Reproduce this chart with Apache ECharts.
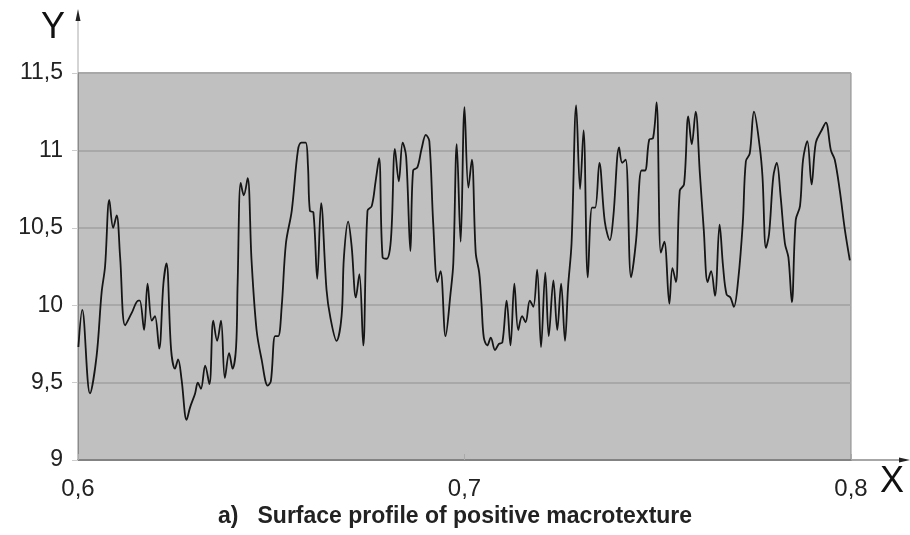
<!DOCTYPE html>
<html>
<head>
<meta charset="utf-8">
<script src="https://cdn.jsdelivr.net/npm/echarts@6/dist/echarts.min.js"></script>
<style>
  html, body { margin: 0; padding: 0; background: #fff; }
  #chart { width: 910px; height: 535px; }
</style>
</head>
<body>
<div id="chart"></div>
<script>
// profile samples
const xs = [
  0.6001, 0.6011, 0.6031, 0.6048, 0.6061, 0.6070, 0.6081, 0.6091, 0.6100, 0.6109,
  0.6122, 0.6139, 0.6156, 0.6160, 0.6171, 0.6180, 0.6191, 0.6199, 0.6210, 0.6221,
  0.6229, 0.6241, 0.6251, 0.6259, 0.6268, 0.6281, 0.6290, 0.6303, 0.6310, 0.6318,
  0.6329, 0.6340, 0.6350, 0.6360, 0.6370, 0.6380, 0.6391, 0.6400, 0.6409, 0.6413,
  0.6421, 0.6429, 0.6439, 0.6449, 0.6462, 0.6475, 0.6491, 0.6499, 0.6510, 0.6518,
  0.6527, 0.6538, 0.6553, 0.6569, 0.6578, 0.6589, 0.6595, 0.6600, 0.6609, 0.6619,
  0.6629, 0.6643, 0.6653, 0.6669, 0.6682, 0.6688, 0.6699, 0.6708, 0.6719, 0.6728,
  0.6738, 0.6749, 0.6760, 0.6770, 0.6779, 0.6788, 0.6799, 0.6807, 0.6812, 0.6820,
  0.6830, 0.6840, 0.6849, 0.6860, 0.6867, 0.6878, 0.6889, 0.6900, 0.6909, 0.6919,
  0.6930, 0.6938, 0.6951, 0.6964, 0.6971, 0.6980, 0.6990, 0.7000, 0.7010, 0.7019,
  0.7029, 0.7038, 0.7044, 0.7050, 0.7059, 0.7068, 0.7079, 0.7089, 0.7098, 0.7109,
  0.7119, 0.7129, 0.7139, 0.7149, 0.7158, 0.7169, 0.7178, 0.7188, 0.7198, 0.7209,
  0.7218, 0.7230, 0.7240, 0.7250, 0.7260, 0.7268, 0.7277, 0.7289, 0.7299, 0.7308,
  0.7319, 0.7330, 0.7338, 0.7349, 0.7363, 0.7376, 0.7385, 0.7400, 0.7408, 0.7417,
  0.7431, 0.7444, 0.7458, 0.7467, 0.7478, 0.7488, 0.7497, 0.7508, 0.7517, 0.7530,
  0.7538, 0.7547, 0.7557, 0.7568, 0.7579, 0.7588, 0.7598, 0.7609, 0.7619, 0.7629,
  0.7638, 0.7648, 0.7660, 0.7669, 0.7678, 0.7688, 0.7697, 0.7708, 0.7720, 0.7728,
  0.7738, 0.7749, 0.7764, 0.7771, 0.7780, 0.7788, 0.7799, 0.7808, 0.7818, 0.7829,
  0.7838, 0.7847, 0.7857, 0.7868, 0.7876, 0.7887, 0.7898, 0.7909, 0.7924, 0.7935,
  0.7948, 0.7958, 0.7971, 0.7984, 0.7997
]
const ys = [
  9.73, 9.97, 9.43, 9.67, 10.08, 10.25, 10.68, 10.50, 10.58, 10.31,
  9.87, 9.95, 10.03, 10.03, 9.84, 10.14, 9.90, 9.93, 9.72, 10.14,
  10.27, 9.71, 9.59, 9.65, 9.52, 9.26, 9.34, 9.43, 9.50, 9.46,
  9.61, 9.49, 9.90, 9.77, 9.90, 9.53, 9.69, 9.59, 9.73, 10.14,
  10.79, 10.71, 10.82, 10.29, 9.84, 9.65, 9.48, 9.51, 9.80, 9.80,
  9.99, 10.40, 10.61, 11.00, 11.05, 11.05, 10.90, 10.61, 10.60, 10.17,
  10.66, 10.10, 9.92, 9.77, 9.93, 10.31, 10.54, 10.38, 10.05, 10.20,
  9.74, 10.61, 10.64, 10.80, 10.95, 10.31, 10.30, 10.36, 10.53, 11.01,
  10.80, 11.05, 10.96, 10.35, 10.87, 10.89, 11.01, 11.10, 11.06, 10.53,
  10.15, 10.22, 9.80, 10.08, 10.27, 11.04, 10.41, 11.28, 10.76, 10.94,
  10.34, 10.21, 10.01, 9.79, 9.74, 9.79, 9.71, 9.75, 9.76, 10.03,
  9.74, 10.14, 9.84, 9.93, 9.89, 10.03, 9.99, 10.23, 9.73, 10.21,
  9.80, 10.16, 9.84, 10.14, 9.77, 10.12, 10.40, 11.29, 10.75, 11.13,
  10.18, 10.63, 10.63, 10.92, 10.54, 10.42, 10.57, 11.02, 10.92, 10.94,
  10.18, 10.42, 10.87, 10.87, 11.07, 11.08, 11.31, 10.34, 10.41, 10.01,
  10.24, 10.15, 10.74, 10.78, 11.22, 11.04, 11.25, 10.85, 10.49, 10.15,
  10.22, 10.06, 10.52, 10.25, 10.07, 10.05, 9.99, 10.16, 10.53, 10.93,
  10.98, 11.25, 11.02, 10.83, 10.37, 10.46, 10.83, 10.92, 10.70, 10.40,
  10.31, 10.02, 10.55, 10.64, 10.94, 11.06, 10.78, 11.05, 11.13, 11.18,
  11.00, 10.94, 10.74, 10.49, 10.29
]

const profile = xs.map((x, i) => [x, ys[i]])
const comma = (v) => String(+v.toFixed(2)).replace('.', ',')

const font = '"Liberation Sans", Arial, sans-serif'
const chart = echarts.init(document.getElementById('chart'))

chart.setOption({
  animation: false,
  backgroundColor: '#fff',
  grid: {
    left: 78, right: 59, top: 73, bottom: 75,
    show: true,
    backgroundColor: '#c0c0c0',
    borderColor: '#8a8a8a',
    borderWidth: 1,
  },
  xAxis: {
    type: 'value',
    min: 0.6, max: 0.8, interval: 0.1,
    axisLine: { lineStyle: { color: '#777', width: 1.5 } },
    axisTick: { show: true, inside: true, length: 6, lineStyle: { color: '#aaa' } },
    splitLine: { show: false },
    axisLabel: { color: '#222', fontSize: 24, fontFamily: font, margin: 17, formatter: comma },
  },
  yAxis: {
    type: 'value',
    min: 9, max: 11.5, interval: 0.5,
    axisLine: { show: true, lineStyle: { color: '#8a8a8a', width: 1 } },
    axisTick: { show: true, length: 6, lineStyle: { color: '#ccc' } },
    splitLine: { show: true, lineStyle: { color: '#a8a8a8', width: 2 } },
    axisLabel: { color: '#222', fontSize: 23, fontFamily: font, margin: 15, formatter: comma },
  },
  series: [{
    type: 'line',
    data: profile,
    smooth: 0.35,
    showSymbol: false,
    lineStyle: { color: '#151515', width: 1.8 },
  }],
  graphic: [
    // axis extensions with arrows
    { type: 'line', shape: { x1: 78, y1: 73, x2: 78, y2: 18 }, style: { stroke: '#aaa', lineWidth: 1 } },
    { type: 'polygon', shape: { points: [[78, 9], [75.5, 21], [80.5, 21]] }, style: { fill: '#222' } },
    { type: 'line', shape: { x1: 851, y1: 460, x2: 902, y2: 460 }, style: { stroke: '#8a8a8a', lineWidth: 1.5 } },
    { type: 'polygon', shape: { points: [[910, 460], [899, 457.5], [899, 462.5]] }, style: { fill: '#222' } },
    { type: 'text', left: 41, top: 10, style: { text: 'Y', fontSize: 36, fontFamily: font, fill: '#111' } },
    { type: 'text', left: 880, top: 464, style: { text: 'X', fontSize: 36, fontFamily: font, fill: '#111' } },
    { type: 'text', left: 'center', top: 505, style: { text: 'a)   Surface profile of positive macrotexture', fontSize: 23, fontWeight: 'bold', fontFamily: font, fill: '#222' } },
  ],
})
</script>
</body>
</html>
